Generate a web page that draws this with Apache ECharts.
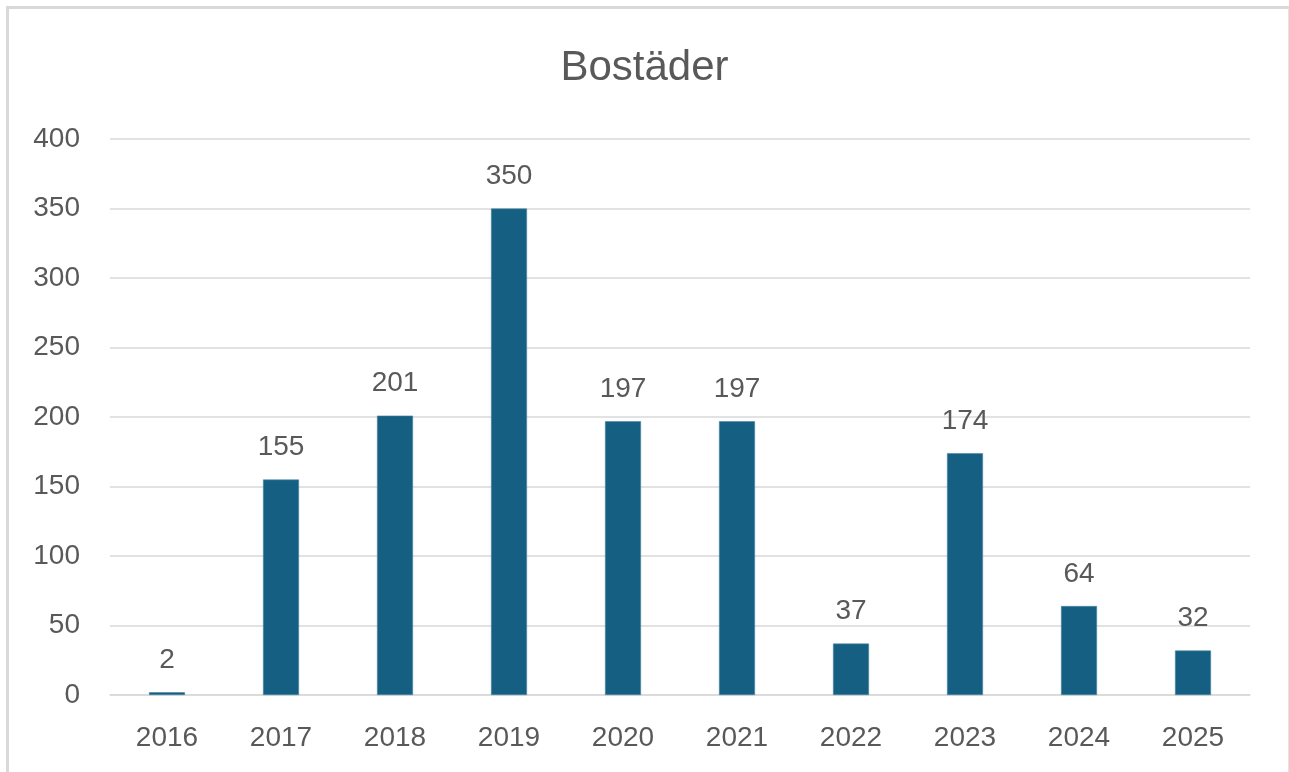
<!DOCTYPE html>
<html>
<head>
<meta charset="utf-8">
<script src="https://cdn.jsdelivr.net/npm/echarts@6/dist/echarts.min.js"></script>
<style>
  html, body { margin: 0; padding: 0; background: #fff; }
  #frame { position: absolute; left: 6px; top: 6px; width: 1279px; height: 800px;
           border-top: 3px solid #d9d9d9; border-left: 3px solid #d9d9d9; border-right: 1px solid #e3e3e3; }
  #chart { position: absolute; left: 0; top: 0; width: 1289px; height: 772px; }
</style>
</head>
<body>
<div id="frame"></div>
<div id="chart"></div>
<script>
const title = 'Bostäder';
const categories = ['2016', '2017', '2018', '2019', '2020', '2021', '2022', '2023', '2024', '2025'];
const values = [2, 155, 201, 350, 197, 197, 37, 174, 64, 32];
const yMin = 0, yMax = 400, yStep = 50;

const textColor = '#595959';
const font = '"Liberation Sans", Arial, sans-serif';

const chart = echarts.init(document.getElementById('chart'), null, { renderer: 'canvas' });
chart.setOption({
  backgroundColor: 'transparent',
  animation: false,
  title: {
    text: title,
    left: 'center',
    top: 42,
    textStyle: { color: textColor, fontSize: 42, fontWeight: 'normal', fontFamily: font }
  },
  grid: { left: 110, right: 39, top: 139, bottom: 77, containLabel: false },
  xAxis: {
    type: 'category',
    data: categories,
    axisLine: { show: true, lineStyle: { color: '#d9d9d9', width: 1.5 } },
    axisTick: { show: false },
    axisLabel: { color: textColor, fontSize: 28, fontFamily: font, margin: 29 }
  },
  yAxis: {
    type: 'value',
    min: yMin, max: yMax, interval: yStep,
    axisLine: { show: false },
    axisTick: { show: false },
    axisLabel: { color: textColor, fontSize: 28, fontFamily: font, margin: 30 },
    splitLine: { lineStyle: { color: '#d9d9d9', width: 1.5 } }
  },
  series: [{
    type: 'bar',
    data: values,
    barWidth: 36,
    itemStyle: { color: '#156082', borderColor: '#4d87a3', borderWidth: 0.6 },
    label: {
      show: true,
      position: 'top',
      distance: 18,
      color: textColor,
      fontSize: 28,
      fontFamily: font
    }
  }]
});
</script>
</body>
</html>
